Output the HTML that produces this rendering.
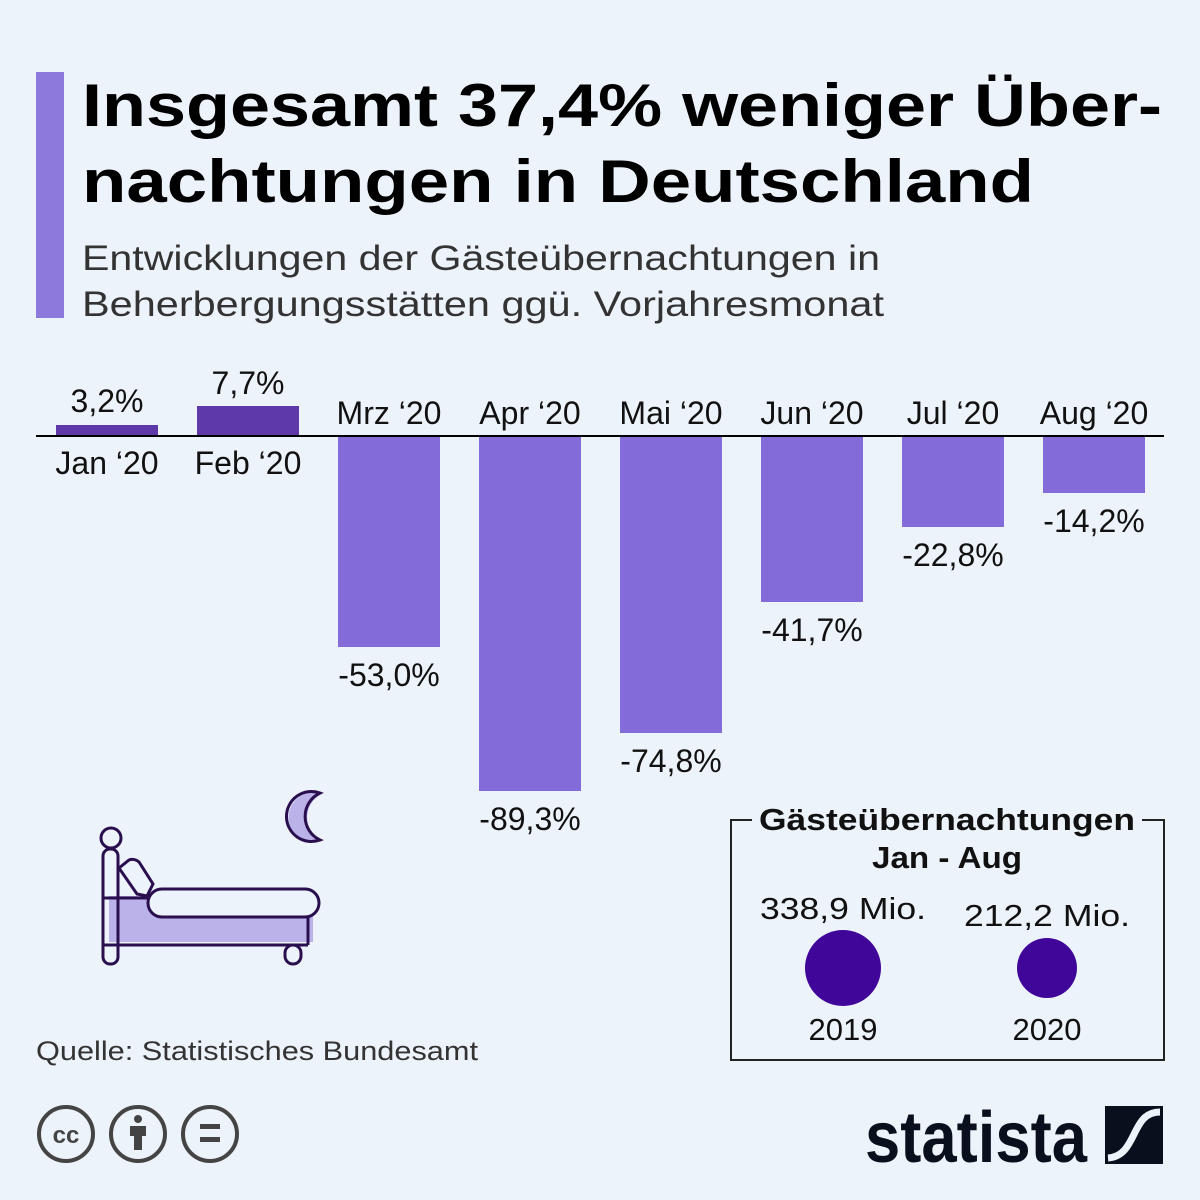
<!DOCTYPE html>
<html><head><meta charset="utf-8"><style>
body{margin:0;background:#edf3fa;}
svg{display:block;font-family:"Liberation Sans","DejaVu Sans",sans-serif;}
</style></head><body>
<svg width="1200" height="1200" viewBox="0 0 1200 1200">
<rect width="1200" height="1200" fill="#edf3fa"/>
<rect x="36" y="72" width="28" height="246" fill="#8d78dc"/>
<text x="82" y="126" font-size="60" font-weight="bold" fill="#000" textLength="1080" lengthAdjust="spacingAndGlyphs">Insgesamt 37,4% weniger Über-</text>
<text x="82" y="202" font-size="60" font-weight="bold" fill="#000" textLength="952" lengthAdjust="spacingAndGlyphs">nachtungen in Deutschland</text>
<text x="82" y="270" font-size="35" fill="#333" textLength="798" lengthAdjust="spacingAndGlyphs">Entwicklungen der Gästeübernachtungen in</text>
<text x="82" y="316" font-size="35" fill="#333" textLength="802" lengthAdjust="spacingAndGlyphs">Beherbergungsstätten ggü. Vorjahresmonat</text>
<g fill="#836cd9">
<rect x="56" y="425" width="102" height="11" fill="#5e3aa8"/>
<rect x="197" y="406" width="102" height="30" fill="#5e3aa8"/>
<rect x="338" y="436" width="102" height="211"/>
<rect x="479" y="436" width="102" height="355"/>
<rect x="620" y="436" width="102" height="297"/>
<rect x="761" y="436" width="102" height="166"/>
<rect x="902" y="436" width="102" height="91"/>
<rect x="1043" y="436" width="102" height="57"/>
</g>
<line x1="36" y1="436" x2="1164" y2="436" stroke="#000" stroke-width="2"/>
<g font-size="32" fill="#111" text-anchor="middle">
<text x="107" y="412">3,2%</text><text x="107" y="474">Jan ‘20</text>
<text x="248" y="394">7,7%</text><text x="248" y="474">Feb ‘20</text>
<text x="389" y="424">Mrz ‘20</text><text x="389" y="686">-53,0%</text>
<text x="530" y="424">Apr ‘20</text><text x="530" y="830">-89,3%</text>
<text x="671" y="424">Mai ‘20</text><text x="671" y="772">-74,8%</text>
<text x="812" y="424">Jun ‘20</text><text x="812" y="641">-41,7%</text>
<text x="953" y="424">Jul ‘20</text><text x="953" y="566">-22,8%</text>
<text x="1094" y="424">Aug ‘20</text><text x="1094" y="532">-14,2%</text>
</g>
<!-- bed icon -->
<g stroke="#2a0f4f" stroke-width="3" fill="none">
<rect x="109" y="896" width="204" height="46" fill="#bcb2ea" stroke="none"/>
<circle cx="111" cy="838" r="10"/>
<rect x="103" y="849" width="15" height="115" rx="7"/>
<rect x="285" y="945" width="16" height="19" rx="8"/>
<line x1="103" y1="945" x2="308" y2="945"/>
<line x1="308" y1="915" x2="308" y2="945"/>
<line x1="103" y1="898" x2="150" y2="898"/>
<path d="M119 868 l10 -8 a10 10 0 0 1 10 2 l14 22 l-6 12 l-10 -2 z"/>
<rect x="148" y="889" width="171" height="28" rx="14" fill="#edf3fa"/>
</g>
<path d="M322 794 A25 25 0 1 0 322 841 A26 26 0 0 1 322 794 Z" fill="#bcb2ea"/>
<path d="M320 793 A25 25 0 1 0 320 840 A26 26 0 0 1 320 793 Z" fill="none" stroke="#2a0f4f" stroke-width="3"/>
<!-- box -->
<rect x="731" y="820" width="433" height="240" fill="none" stroke="#222" stroke-width="2"/>
<rect x="752" y="800" width="390" height="40" fill="#edf3fa"/>
<text x="947" y="830" font-size="31" font-weight="bold" text-anchor="middle" fill="#111" textLength="376" lengthAdjust="spacingAndGlyphs">Gästeübernachtungen</text>
<text x="947" y="868" font-size="31" font-weight="bold" text-anchor="middle" fill="#111" textLength="150" lengthAdjust="spacingAndGlyphs">Jan - Aug</text>
<text x="843" y="919" font-size="31" text-anchor="middle" fill="#111" textLength="166" lengthAdjust="spacingAndGlyphs">338,9 Mio.</text>
<text x="1047" y="926" font-size="31" text-anchor="middle" fill="#111" textLength="166" lengthAdjust="spacingAndGlyphs">212,2 Mio.</text>
<circle cx="843" cy="968" r="38" fill="#40069a"/>
<circle cx="1047" cy="968" r="30" fill="#40069a"/>
<text x="843" y="1040" font-size="31" text-anchor="middle" fill="#111">2019</text>
<text x="1047" y="1040" font-size="31" text-anchor="middle" fill="#111">2020</text>
<text x="36" y="1060" font-size="27" fill="#333" textLength="442" lengthAdjust="spacingAndGlyphs">Quelle: Statistisches Bundesamt</text>
<!-- CC icons -->
<g stroke="#444" stroke-width="4" fill="none">
<circle cx="66" cy="1134" r="27"/><circle cx="138" cy="1134" r="27"/><circle cx="210" cy="1134" r="27"/>
</g>
<text x="66" y="1143" font-size="24" font-weight="bold" text-anchor="middle" fill="#444">cc</text>
<circle cx="138" cy="1119" r="4" fill="#444"/>
<rect x="130" y="1126" width="16" height="10" fill="#444"/><rect x="134" y="1134" width="8" height="16" fill="#444"/>
<rect x="200" y="1124" width="20" height="5" fill="#444"/><rect x="200" y="1137" width="20" height="5" fill="#444"/>
<text x="865" y="1162" font-size="72" font-weight="bold" fill="#0a0f1e" textLength="222" lengthAdjust="spacingAndGlyphs">statista</text>
<rect x="1105" y="1106" width="58" height="58" fill="#0a0f1e"/>
<path d="M1160 1112 c-30 0 -22 44 -52 46" stroke="#edf3fa" stroke-width="7" fill="none"/>
</svg>
</body></html>
